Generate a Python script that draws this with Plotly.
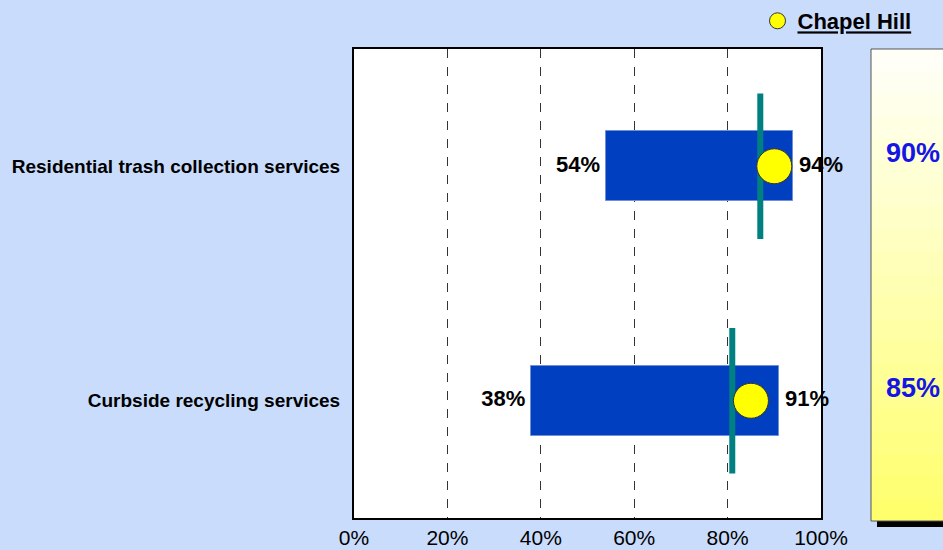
import plotly.graph_objects as go

# --- data ---
categories = ["Residential trash collection services", "Curbside recycling services"]
range_low = [54, 38]
range_high = [94, 91]
average = [87, 81]
chapel_hill = [90, 85]
x_ticks = [0, 20, 40, 60, 80, 100]

BG = "#C9DCFC"
BAR_BLUE = "#0040C0"
TEAL = "#008080"
FONT = "Arial, Liberation Sans, sans-serif"

ypos = [len(categories) - 1 - i for i in range(len(categories))]

fig = go.Figure()

# low-high range bars
fig.add_trace(go.Bar(
    y=ypos,
    x=[h - l for l, h in zip(range_low, range_high)],
    base=range_low,
    orientation="h",
    width=0.3,
    marker=dict(color=BAR_BLUE, line=dict(color="#6F8FD8", width=1)),
    showlegend=False,
    hoverinfo="skip",
))

# average markers (vertical teal lines)
for y, v in zip(ypos, average):
    fig.add_trace(go.Scatter(
        x=[v, v], y=[y - 0.31, y + 0.31],
        mode="lines", line=dict(color=TEAL, width=6),
        showlegend=False, hoverinfo="skip",
    ))

# Chapel Hill
fig.add_trace(go.Scatter(
    x=chapel_hill, y=ypos,
    mode="markers",
    marker=dict(symbol="circle", size=35, color="#FFFF00", line=dict(color="#333333", width=1)),
    name="<b><u>Chapel Hill</u></b>",
    showlegend=True,
))

# value labels
fig.add_trace(go.Scatter(
    x=range_low, y=ypos, mode="text",
    text=[f"{v}%" for v in range_low], textposition="middle left",
    textfont=dict(family=FONT, size=22, color="#000000"),
    texttemplate="<b>%{text}</b> ",
    showlegend=False, hoverinfo="skip", cliponaxis=False,
))
fig.add_trace(go.Scatter(
    x=range_high, y=ypos, mode="text",
    text=[f"{v}%" for v in range_high], textposition="middle right",
    textfont=dict(family=FONT, size=22, color="#000000"),
    texttemplate=" <b>%{text}</b>",
    showlegend=False, hoverinfo="skip", cliponaxis=False,
))

# right side panel: yellow gradient via heatmap
grad = [[i / 20] for i in range(21)]
fig.add_trace(go.Heatmap(
    z=grad, x=[0], y=[i / 20 for i in range(21)],
    xaxis="x2", yaxis="y2",
    colorscale=[[0, "#FFFF6E"], [1, "#FFFFF8"]],
    showscale=False, hoverinfo="skip",
))

for y, v in zip(ypos, chapel_hill):
    fig.add_annotation(
        x=0.58, y=y, xref="x2 domain", yref="y",
        text=f"<b>{v}%</b>", showarrow=False, yshift=13,
        font=dict(family=FONT, size=27, color="#1515E6"),
    )

plot_w = 943 - 354
plot_h = 550 - 48 - 29
main_end = 467 / plot_w
panel_start = 517 / plot_w

fig.update_layout(
    template="none",
    width=943, height=550,
    autosize=False,
    margin=dict(l=354, r=0, t=48, b=29, pad=0),
    paper_bgcolor=BG,
    plot_bgcolor="#FFFFFF",
    font=dict(family=FONT, color="#000000"),
    bargap=0,
    xaxis=dict(
        domain=[0, main_end],
        range=[0, 100],
        tickvals=x_ticks,
        ticktext=[f"{t}%" for t in x_ticks],
        tickfont=dict(size=21, family=FONT),
        showgrid=True, gridcolor="#333333", griddash="dash", gridwidth=1,
        zeroline=False, automargin=False,
        showline=True, linecolor="#000000", linewidth=2, mirror=True,
        ticks="", ticklabelstandoff=0,
    ),
    yaxis=dict(
        domain=[3 / plot_h, 1.0],
        range=[-0.5, len(categories) - 0.5],
        tickvals=ypos,
        ticktext=[f"<b>{c}</b>" for c in categories],
        tickfont=dict(size=19, family=FONT),
        showgrid=False, zeroline=False, automargin=False,
        showline=True, linecolor="#000000", linewidth=2, mirror=True,
        ticks="", ticklabelstandoff=8,
    ),
    xaxis2=dict(domain=[panel_start, 1.0], anchor="y2", visible=False,
                range=[-0.5, 0.5], automargin=False),
    yaxis2=dict(domain=[0, 1.0], anchor="x2", visible=False,
                range=[-0.025, 1.025], automargin=False),
    legend=dict(
        x=0.955, y=1.06, xanchor="right", yanchor="middle",
        bgcolor="rgba(0,0,0,0)", borderwidth=0,
        font=dict(size=22, family=FONT, color="#000000"),
        itemsizing="trace", itemwidth=30,
    ),
    shapes=[
        # panel shadow
        dict(type="rect", xref="paper", yref="paper",
             x0=panel_start + 6 / plot_w, x1=1.05, y0=-6 / plot_h, y1=0,
             fillcolor="#000000", line=dict(width=0), layer="below"),
        # panel border
        dict(type="rect", xref="paper", yref="paper",
             x0=panel_start, x1=1.05, y0=0, y1=1.0,
             fillcolor="rgba(0,0,0,0)", line=dict(color="#555555", width=1)),
    ],
)

fig.write_html(
    "out.html",
    config={"displayModeBar": False, "responsive": False},
    post_script=(
        "document.body.style.margin='0';"
        "document.body.style.overflow='hidden';"
    ),
)
